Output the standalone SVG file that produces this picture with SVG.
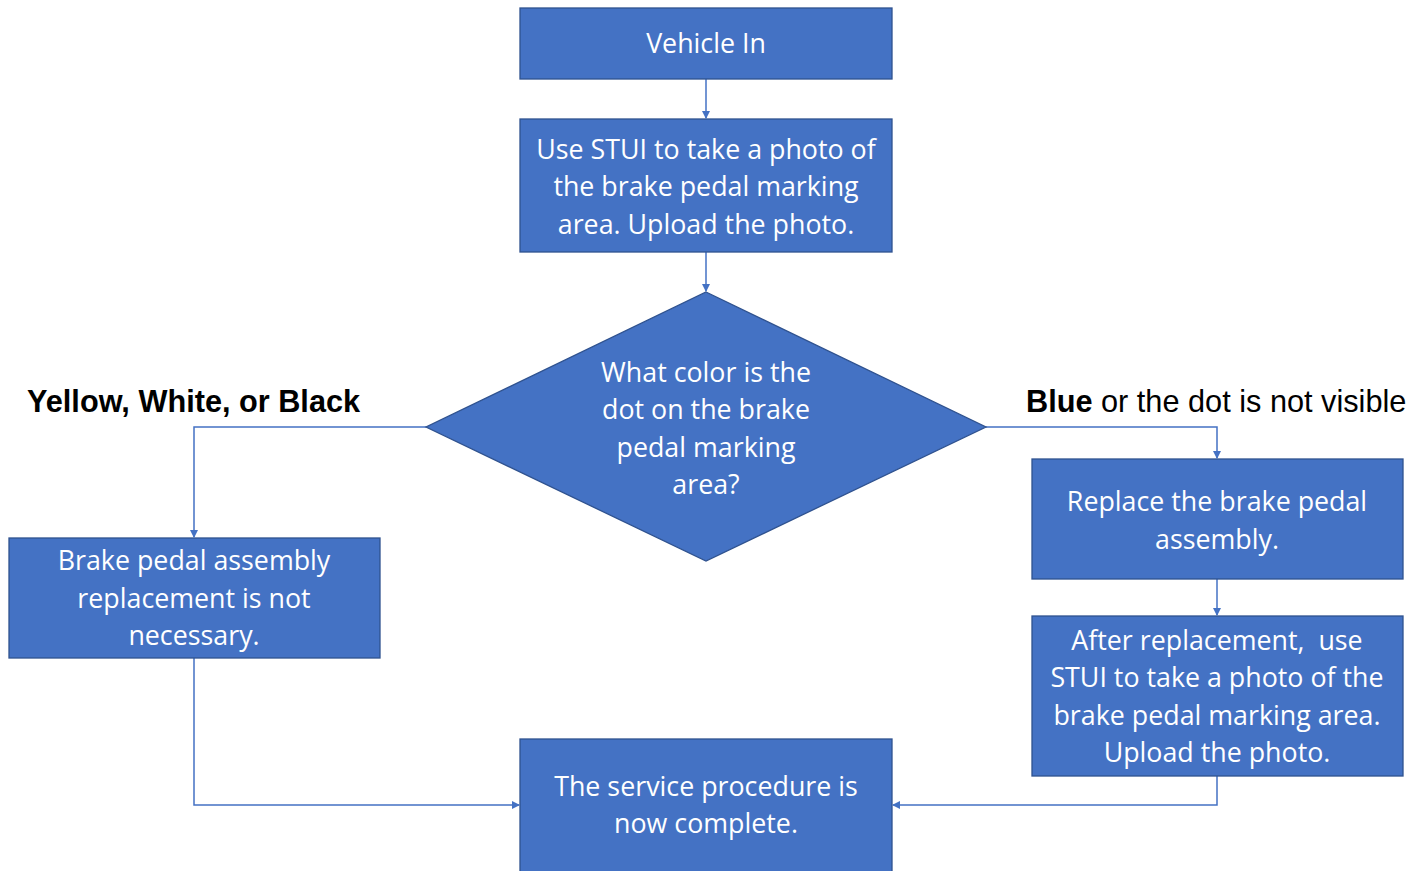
<svg xmlns="http://www.w3.org/2000/svg" width="1424" height="871" viewBox="0 0 1424 871">
<defs>
<marker id="arr" markerWidth="8" markerHeight="8" refX="7" refY="4" orient="auto" markerUnits="userSpaceOnUse">
<path d="M0,0 L8,4 L0,8 Z" fill="#4472C4"/>
</marker>
<style>
.box{fill:#4472C4;stroke:#2F528F;stroke-width:1.3}
.t{font-family:"Open Sans","Noto Sans",sans-serif;font-size:26.8px;fill:#FFFFFF;text-anchor:middle}
.c{fill:none;stroke:#4472C4;stroke-width:1.5}
.lbl{font-family:"Liberation Sans",Arial,sans-serif;font-size:30.7px;fill:#000000}
</style>
</defs>
<rect width="1424" height="871" fill="#FFFFFF"/>
<g id="connectors">
<path class="c" d="M706,79 V118" marker-end="url(#arr)"/>
<path class="c" d="M706,252 V291" marker-end="url(#arr)"/>
<path class="c" d="M426,427 H194 V537" marker-end="url(#arr)"/>
<path class="c" d="M986,427 H1217 V458" marker-end="url(#arr)"/>
<path class="c" d="M1217,579 V615" marker-end="url(#arr)"/>
<path class="c" d="M194,658 V805 H519" marker-end="url(#arr)"/>
<path class="c" d="M1217,776 V805 H893" marker-end="url(#arr)"/>
</g>
<g id="label-left"><text class="lbl" x="27" y="412" font-weight="bold">Yellow, White, or Black</text></g>
<g id="label-right"><text class="lbl" x="1026" y="412"><tspan font-weight="bold">Blue</tspan> or the dot is not visible</text></g>
<g id="vehicle-in">
<rect class="box" x="520" y="8" width="372" height="71"/>
<text class="t" x="706" y="53">Vehicle In</text>
</g>
<g id="take-photo">
<rect class="box" x="520" y="119" width="372" height="133"/>
<text class="t" x="706" y="159">Use STUI to take a photo of</text>
<text class="t" x="706" y="196">the brake pedal marking</text>
<text class="t" x="706" y="234">area. Upload the photo.</text>
</g>
<g id="decision">
<polygon class="box" points="706,292 986,427 706,561 426,427"/>
<text class="t" x="706" y="382">What color is the</text>
<text class="t" x="706" y="419">dot on the brake</text>
<text class="t" x="706" y="457">pedal marking</text>
<text class="t" x="706" y="494">area?</text>
</g>
<g id="not-necessary">
<rect class="box" x="9" y="538" width="371" height="120"/>
<text class="t" x="194" y="570">Brake pedal assembly</text>
<text class="t" x="194" y="608">replacement is not</text>
<text class="t" x="194" y="645">necessary.</text>
</g>
<g id="replace">
<rect class="box" x="1032" y="459" width="371" height="120"/>
<text class="t" x="1217" y="511">Replace the brake pedal</text>
<text class="t" x="1217" y="549">assembly.</text>
</g>
<g id="after-replacement">
<rect class="box" x="1032" y="616" width="371" height="160"/>
<text class="t" x="1217" y="650">After replacement,&#160; use</text>
<text class="t" x="1217" y="687">STUI to take a photo of the</text>
<text class="t" x="1217" y="725">brake pedal marking area.</text>
<text class="t" x="1217" y="762">Upload the photo.</text>
</g>
<g id="complete">
<rect class="box" x="520" y="739" width="372" height="134"/>
<text class="t" x="706" y="796">The service procedure is</text>
<text class="t" x="706" y="833">now complete.</text>
</g>
</svg>
